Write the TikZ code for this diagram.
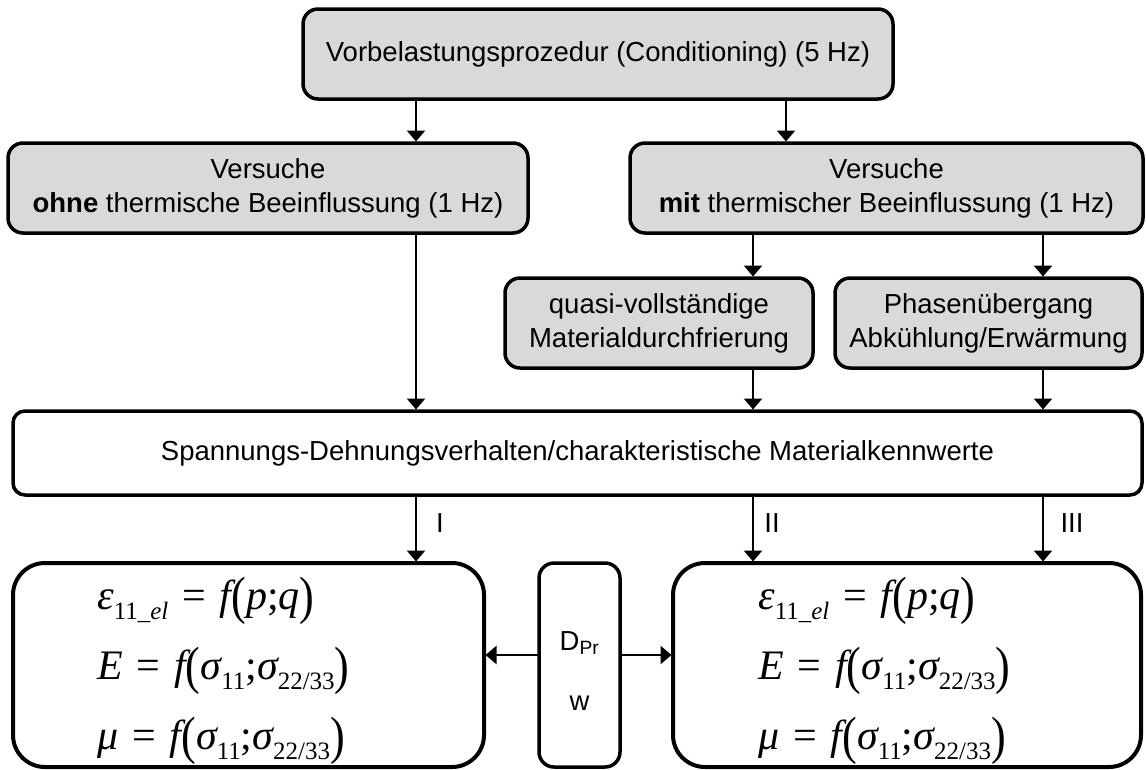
\documentclass[tikz,border=0pt]{standalone}
\usepackage{fontspec}
\setmainfont{Liberation Sans}
\newfontfamily\tms{Liberation Serif}
\usepackage{graphicx}
\usetikzlibrary{arrows.meta}
\definecolor{boxgray}{HTML}{D9D9D9}
\newcommand{\ii}[1]{{\itshape #1}}
\newcommand{\bp}[1]{\raisebox{-0.11em}{\scalebox{1.05}[1.25]{#1}}}
\newcommand{\sbs}[1]{\raisebox{-0.25em}{\fontsize{25}{25}\selectfont #1}}
\newcommand{\eqsp}{\hspace{0.33em}=\hspace{0.33em}}
\newcommand{\eqA}{\ii{ε}\sbs{11\_\ii{el}}\eqsp\ii{f}\bp{(}\ii{p};\ii{q}\bp{)}}
\newcommand{\eqB}{\ii{E}\eqsp\ii{f}\bp{(}\ii{σ}\sbs{11};\ii{σ}\sbs{22/33}\bp{)}}
\newcommand{\eqC}{\ii{μ}\eqsp\ii{f}\bp{(}\ii{σ}\sbs{11};\ii{σ}\sbs{22/33}\bp{)}}
\tikzset{
  gbox/.style={draw, line width=3.5pt, fill=boxgray, rounded corners=15pt, inner sep=0pt, outer sep=0pt, align=center, font=\fontsize{27.5}{34}\selectfont},
  wbox/.style={draw, line width=3.5pt, fill=white, rounded corners=12pt, inner sep=0pt, outer sep=0pt, align=center, font=\fontsize{27.5}{34}\selectfont},
  ebox/.style={draw, line width=4pt, rounded corners=32pt, inner sep=0pt, outer sep=0pt},
  dbox/.style={draw, line width=3.5pt, rounded corners=15pt, inner sep=0pt, outer sep=0pt},
  lbl/.style={inner sep=0pt, font=\fontsize{27.5}{32}\selectfont},
  eqn/.style={inner sep=0pt, anchor=base west, font=\tms\fontsize{42}{42}\selectfont},
  arr/.style={line width=2.5pt, shorten >=1.5pt, -{Triangle[length=11pt,width=18pt]}},
}
\begin{document}
\begin{tikzpicture}[x=1pt,y=-1pt]
\useasboundingbox (0,0) rectangle (1146,769);
\node[gbox, minimum width=590pt, minimum height=90pt] (top) at (598,54) {Vorbelastungsprozedur (Conditioning) (5 Hz)};
\node[gbox, minimum width=520pt, minimum height=90pt] (lv) at (268,188) {Versuche\\\textbf{ohne} thermische Beeinflussung (1 Hz)};
\node[gbox, minimum width=513pt, minimum height=90pt] (rv) at (886.5,188) {Versuche\\\textbf{mit} thermischer Beeinflussung (1 Hz)};
\node[gbox, minimum width=308pt, minimum height=90pt] (qv) at (659,323) {quasi-vollständige\\Materialdurchfrierung};
\node[gbox, minimum width=307pt, minimum height=90pt] (ph) at (988.5,323) {Phasenübergang\\Abkühlung/Erwärmung};
\node[wbox, minimum width=1129pt, minimum height=84pt] (sd) at (577.5,453) {Spannungs-Dehnungsverhalten/charakteristische Materialkennwerte};
\node[ebox, minimum width=471pt, minimum height=204pt] (el) at (248.5,665) {};
\node[dbox, minimum width=81pt, minimum height=204pt] (dp) at (579.5,665) {};
\node[ebox, minimum width=468pt, minimum height=204pt] (er) at (907,665) {};

\coordinate (xa) at (416,0);
\coordinate (xb) at (786,0);
\coordinate (xc) at (753,0);
\coordinate (xd) at (1043,0);
\coordinate (ya) at (0,655);

\draw[arr] (top.south -| xa) -- (lv.north -| xa);
\draw[arr] (top.south -| xb) -- (rv.north -| xb);
\draw[arr] (lv.south -| xa) -- (sd.north -| xa);
\draw[arr] (rv.south -| xc) -- (qv.north -| xc);
\draw[arr] (rv.south -| xd) -- (ph.north -| xd);
\draw[arr] (qv.south -| xc) -- (sd.north -| xc);
\draw[arr] (ph.south -| xd) -- (sd.north -| xd);
\draw[arr] (sd.south -| xa) -- (el.north -| xa);
\draw[arr] (sd.south -| xc) -- (er.north -| xc);
\draw[arr] (sd.south -| xd) -- (er.north -| xd);
\draw[arr] (dp.west |- ya) -- (el.east |- ya);
\draw[arr] (dp.east |- ya) -- (er.west |- ya);

\node[lbl] (lI) at (440,523) {I};
\node[lbl] (lII) at (772,523) {II};
\node[lbl] (lIII) at (1072,523) {III};
\node[lbl] (dpt) at (579.5,643) {D\textsubscript{Pr}};
\node[lbl] (dpw) at (579.5,703) {w};

\node[eqn] (l1) at (97,609) {\eqA};
\node[eqn] (l2) at (97,679) {\eqB};
\node[eqn] (l3) at (97,749) {\eqC};
\node[eqn] (r1) at (758,609) {\eqA};
\node[eqn] (r2) at (758,679) {\eqB};
\node[eqn] (r3) at (758,749) {\eqC};
\end{tikzpicture}
\end{document}
